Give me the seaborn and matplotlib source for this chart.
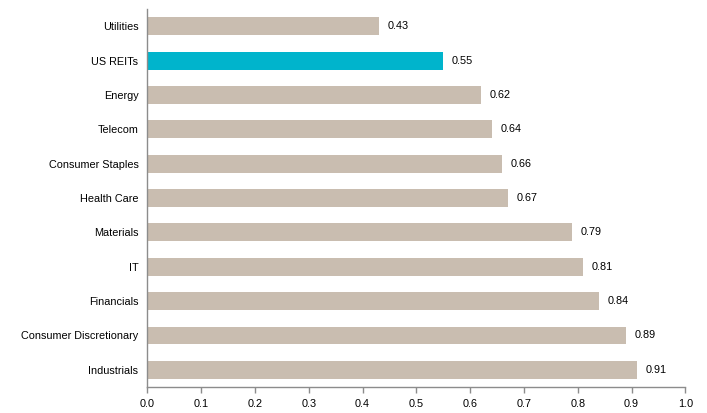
import matplotlib
matplotlib.use("Agg")
import matplotlib.pyplot as plt
import seaborn as sns
import pandas as pd

# Data
sectors = [
    "Utilities", "US REITs", "Energy", "Telecom", "Consumer Staples",
    "Health Care", "Materials", "IT", "Financials",
    "Consumer Discretionary", "Industrials",
]
values = [0.43, 0.55, 0.62, 0.64, 0.66, 0.67, 0.79, 0.81, 0.84, 0.89, 0.91]
highlight = "US REITs"

base_color = "#C9BDB0"
hi_color = "#00B4CC"

df = pd.DataFrame({"sector": sectors, "value": values})
palette = {s: (hi_color if s == highlight else base_color) for s in sectors}

sns.set_theme(style="white")
plt.rcParams["font.family"] = ["Liberation Sans", "DejaVu Sans"]

fig = plt.figure(figsize=(7.07, 4.13), dpi=100)
ax = fig.add_axes([0.2086, 0.063, 0.7607, 0.915])

sns.barplot(data=df, x="value", y="sector", hue="sector", palette=palette,
            order=sectors, width=0.52, legend=False, ax=ax, saturation=1,
            linewidth=0)

for i, v in enumerate(values):
    ax.text(v + 0.016, i, f"{v:.2f}", va="center", ha="left", fontsize=7.8, color="#000000")

ax.set_xlim(0, 1.0)
ax.set_ylim(10.5, -0.5)
ax.set_xticks([i / 10 for i in range(11)])
ax.set_xticklabels([f"{i / 10:.1f}" for i in range(11)])
ax.set_xlabel("")
ax.set_ylabel("")

for side in ["top", "right"]:
    ax.spines[side].set_visible(False)
for side in ["left", "bottom"]:
    ax.spines[side].set_color("#8C8C8C")
    ax.spines[side].set_linewidth(1)

ax.tick_params(axis="x", direction="out", length=4, width=1, color="#8C8C8C",
               labelsize=7.8, labelcolor="#000000", pad=5, bottom=True)
ax.tick_params(axis="y", length=0, labelsize=7.8, labelcolor="#000000", pad=6.5)

fig.savefig("out.png", dpi=100)
